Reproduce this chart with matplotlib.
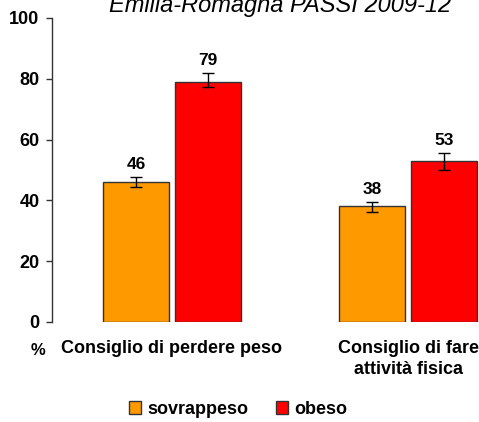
import matplotlib
matplotlib.use("Agg")
import matplotlib.pyplot as plt
import matplotlib.transforms as mtransforms
from matplotlib.patches import Patch
import numpy as np

plt.rcParams['font.family'] = ['Liberation Sans', 'DejaVu Sans']

categories = ["Consiglio di perdere peso", "Consiglio di fare\nattività fisica"]
series_names = ["sovrappeso", "obeso"]
sovrappeso = [46, 38]
obeso = [79, 53]
sovrappeso_err_low = [44.4, 36.2]
sovrappeso_err_high = [47.7, 39.5]
obeso_err_low = [77.3, 50.0]
obeso_err_high = [81.9, 55.6]
yticks = [0, 20, 40, 60, 80, 100]

colors = ["#FF9900", "#FF0000"]

fig = plt.figure(figsize=(4.79, 4.22), dpi=100)
ax = fig.add_axes([52 / 479, 100 / 422, 1 - 52 / 479, 304 / 422])

x = np.arange(len(categories))
w = 0.28
off = 0.1525

for vals, lo, hi, col, sgn in [
    (sovrappeso, sovrappeso_err_low, sovrappeso_err_high, colors[0], -1),
    (obeso, obeso_err_low, obeso_err_high, colors[1], 1),
]:
    vals = np.array(vals)
    err = [vals - np.array(lo), np.array(hi) - vals]
    xs = x + sgn * off
    ax.bar(xs, vals, width=w, color=col, edgecolor="#333333", linewidth=1.0, zorder=2)
    ax.errorbar(xs, vals, yerr=err, fmt="none", ecolor="black", elinewidth=1,
                capsize=4, capthick=1, zorder=3)
    for xi, v, h in zip(xs, vals, hi):
        ax.text(xi, h + 1.6, f"{v:.0f}", ha="center", va="bottom",
                fontsize=12.5, fontweight="bold")

ax.set_ylim(0, 100)
ax.set_xlim(-0.508, 1.30)
ax.set_yticks(yticks)
ax.set_yticklabels([str(t) for t in yticks], fontsize=13, fontweight="bold")
ax.tick_params(axis="y", direction="out", length=4, width=1, pad=5,
               color="#333333")
ax.set_xticks([])
for s in ["top", "right", "bottom"]:
    ax.spines[s].set_visible(False)
ax.spines["left"].set_linewidth(1)
ax.spines["left"].set_color("#333333")

# category labels under the groups
trans = mtransforms.blended_transform_factory(ax.transData, fig.transFigure)
for xi, lab in zip(x, categories):
    ax.text(xi, 1 - 340 / 422, lab, ha="center", va="top", fontsize=13,
            fontweight="bold", linespacing=1.3, transform=trans, clip_on=False)
fig.text(38 / 479, 1 - 355 / 422, "%", ha="center", va="baseline",
         fontsize=12, fontweight="bold")

fig.text(280 / 479, 1 - 12 / 422, "Emilia-Romagna PASSI 2009-12", ha="center",
         va="baseline", fontsize=17, style="italic")

handles = [Patch(facecolor=c, edgecolor="#333333", linewidth=1) for c in colors]
fig.legend(handles, series_names, loc="center", bbox_to_anchor=(238 / 479, 1 - 409 / 422),
           ncol=2, frameon=False, prop={"size": 13, "weight": "bold"},
           handlelength=0.7, handleheight=0.7, handletextpad=0.35, columnspacing=1.5,
           borderpad=0, borderaxespad=0)

fig.savefig("out.png", dpi=100)
